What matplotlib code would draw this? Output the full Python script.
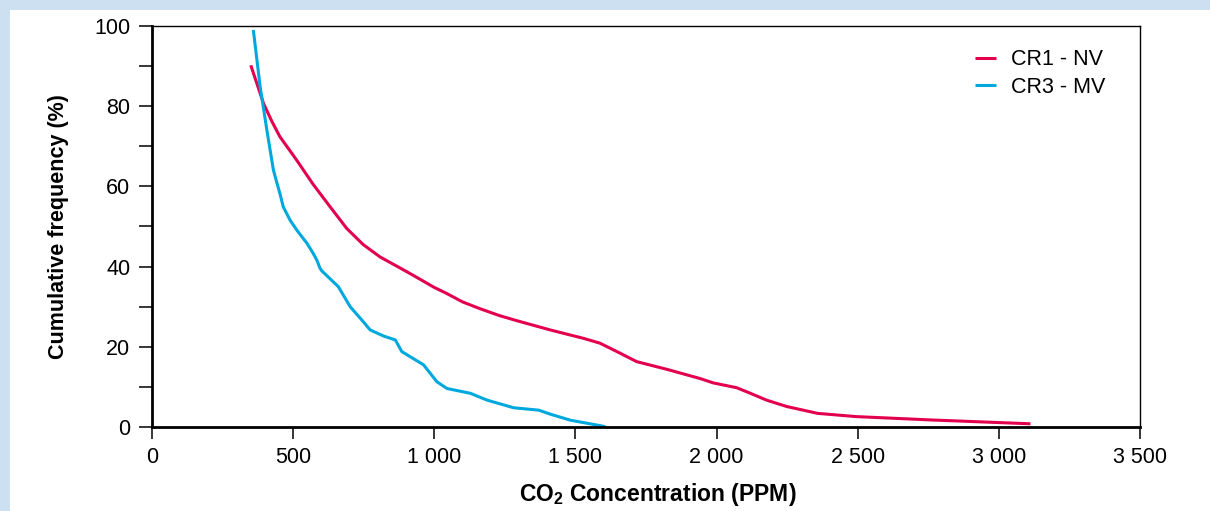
import matplotlib
matplotlib.use("Agg")
import matplotlib.pyplot as plt
from matplotlib.ticker import FuncFormatter, MultipleLocator
from matplotlib.patches import Rectangle

# ---- data ----
cr1_nv_x = [350, 395, 424, 453, 513, 571, 630, 690, 748, 808, 870, 926, 1000, 1044, 1100, 1162,
            1230, 1293, 1411, 1529, 1587, 1650, 1717, 1823, 1941, 1988, 2071, 2120, 2177,
            2249, 2358, 2493, 2763, 3112]
cr1_nv_y = [90.2, 80.7, 76.3, 72.4, 66.5, 60.5, 55.0, 49.5, 45.5, 42.4, 40.0, 37.8, 34.8, 33.3,
            31.2, 29.5, 27.8, 26.5, 24.2, 22.1, 20.9, 18.7, 16.3, 14.4, 12.1, 11.0, 9.8,
            8.4, 6.7, 5.1, 3.4, 2.6, 1.75, 0.8]

cr3_mv_x = [359, 383, 407, 430, 442, 454, 465, 489, 513, 549, 571, 584, 595, 602, 660, 702,
            743, 773, 820, 862, 885, 962, 1009, 1045, 1128, 1187, 1281, 1370, 1411, 1482, 1606]
cr3_mv_y = [99, 84.9, 74, 64.1, 61.0, 58.0, 54.9, 51.6, 49.1, 45.8, 43.3, 41.6, 39.6, 38.9,
            35.0, 30.0, 26.7, 24.2, 22.7, 21.7, 18.8, 15.5, 11.3, 9.6, 8.4, 6.7, 4.8, 4.2,
            3.2, 1.7, 0.1]

series_labels = ["CR1 - NV", "CR3 - MV"]
x_ticks = [0, 500, 1000, 1500, 2000, 2500, 3000, 3500]
y_ticks = [0, 20, 40, 60, 80, 100]

RED = "#E2004F"
BLUE = "#00A8DD"
BG = "#CCE0F2"

plt.rcParams['font.family'] = ['Liberation Sans', 'DejaVu Sans']
plt.rcParams['mathtext.fontset'] = 'custom'
plt.rcParams['mathtext.rm'] = 'Liberation Sans'
plt.rcParams['mathtext.bf'] = 'Liberation Sans:bold'

fig = plt.figure(figsize=(12.10, 5.11), dpi=100)
fig.patch.set_facecolor(BG)
fig.patches.append(Rectangle((10/1210, 0), 1, 1 - 10/511, transform=fig.transFigure,
                             facecolor="white", edgecolor="none", zorder=-10))

ax = fig.add_axes([152/1210, 1 - 427/511, (1140-152)/1210, (427-26)/511])
ax.set_facecolor("white")

ax.plot(cr1_nv_x, cr1_nv_y, color=RED, lw=2.2, label=series_labels[0], solid_capstyle='butt',
        solid_joinstyle='round')
ax.plot(cr3_mv_x, cr3_mv_y, color=BLUE, lw=2.2, label=series_labels[1], solid_capstyle='butt',
        solid_joinstyle='round')

ax.set_xlim(0, 3500)
ax.set_ylim(0, 100)
ax.set_xticks(x_ticks)
ax.set_yticks(y_ticks)
ax.yaxis.set_minor_locator(MultipleLocator(10))
ax.xaxis.set_major_formatter(FuncFormatter(lambda v, p: f"{int(v):,}".replace(",", " ")))

for s in ["left", "bottom"]:
    ax.spines[s].set_linewidth(2.0)
for s in ["top", "right"]:
    ax.spines[s].set_linewidth(1.0)

ax.tick_params(axis='y', which='both', direction='out', length=9.5, width=1.1, pad=6, labelsize=15.5)
ax.tick_params(axis='x', which='both', direction='out', length=8.5, width=1.1, pad=6, labelsize=15.5)

ax.set_ylabel("Cumulative frequency (%)", fontsize=15.5, fontweight='bold', labelpad=18)
ax.set_xlabel(r"CO$_{\mathbf{2}}$ Concentration (PPM)", fontsize=16.5, fontweight='bold', labelpad=8)
ax.xaxis.set_label_coords(0.512, -0.135)

ax.legend(loc='upper right', frameon=False, fontsize=15.5, handlelength=1.0,
          handletextpad=0.7, labelspacing=0.3, bbox_to_anchor=(0.985, 0.99))

fig.savefig("out.png", dpi=100, facecolor=fig.get_facecolor())
